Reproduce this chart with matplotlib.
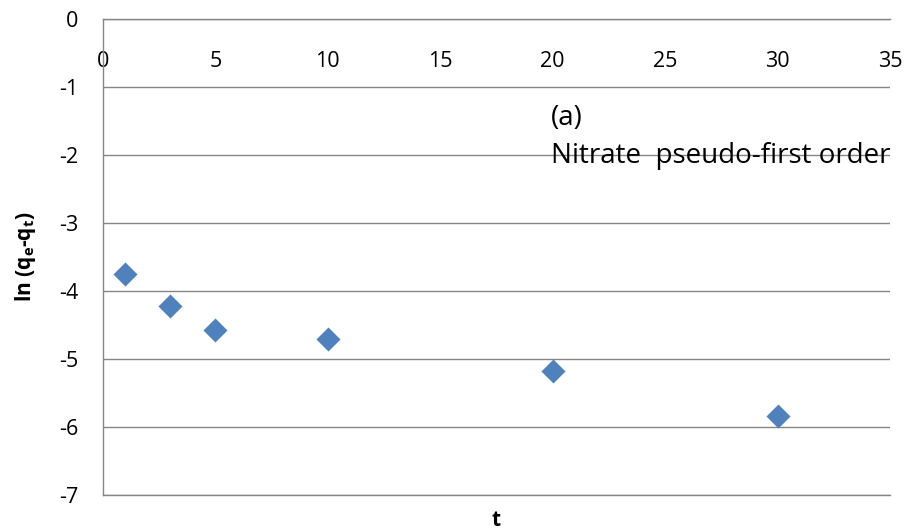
import matplotlib
matplotlib.use("Agg")
import matplotlib.pyplot as plt

# contact time and ln(qe - qt)
t = [1, 3, 5, 10, 20, 30]
ln_qe_qt = [-3.75, -4.22, -4.57, -4.71, -5.17, -5.84]

x_ticks = [0, 5, 10, 15, 20, 25, 30, 35]
y_ticks = [0, -1, -2, -3, -4, -5, -6, -7]

plt.rcParams["font.family"] = ["Open Sans", "DejaVu Sans"]

grid_col = "#868686"
blue = "#4f81bd"

fig = plt.figure(figsize=(9.06, 5.31), dpi=100)
ax = fig.add_axes([103 / 906, 1 - 495 / 531, 787 / 906, 476 / 531])

ax.scatter(t, ln_qe_qt, marker="D", s=150, color=blue, zorder=3, linewidths=0,
           clip_on=False)

ax.set_xlim(0, 35)
ax.set_ylim(-7, 0)
ax.set_xticks(x_ticks)
ax.set_yticks(y_ticks)
ax.set_yticklabels([str(v) for v in y_ticks])

ax.yaxis.grid(True, color=grid_col, linewidth=1.0)
ax.set_axisbelow(True)

ax.spines["right"].set_visible(False)
for s in ["left", "top", "bottom"]:
    ax.spines[s].set_color(grid_col)
    ax.spines[s].set_linewidth(1.0)

# x axis crosses at y = 0, labels sit just under it
ax.tick_params(axis="x", top=True, labeltop=True, bottom=False, labelbottom=False,
               length=0, pad=-38, labelsize=15.5, colors="#000000")
ax.tick_params(axis="y", length=0, pad=18, labelsize=15.5)

ax.set_xlabel("t", fontsize=15, fontweight="bold", labelpad=11)
ax.set_ylabel(r"ln (q$_\mathregular{e}$-q$_\mathregular{t}$)", fontsize=15,
              fontweight="bold", labelpad=15)

ax.text(19.93, -1.56, "(a)", fontsize=20, ha="left", va="baseline")
ax.text(19.93, -2.12, "Nitrate  pseudo-first order", fontsize=20, ha="left",
        va="baseline")

fig.savefig("out.png", dpi=100)
